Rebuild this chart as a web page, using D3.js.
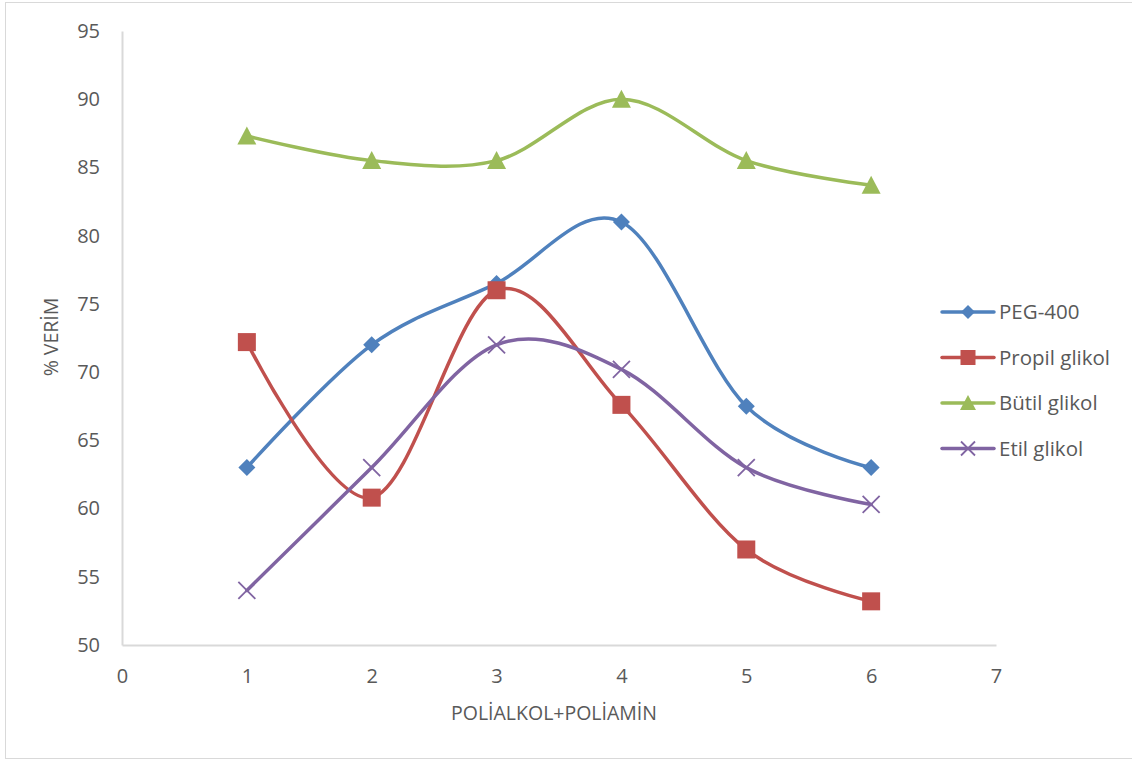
<!DOCTYPE html>
<html>
<head>
<meta charset="utf-8">
<script src="https://cdn.jsdelivr.net/npm/d3@7"></script>
<style>
  html, body { margin: 0; padding: 0; background: #fff; }
  svg { display: block; }
  text { font-family: "Open Sans", "Liberation Sans", sans-serif; fill: #595959; }
</style>
</head>
<body>
<svg id="chart" width="1132" height="761"></svg>
<script>
// Data
const xValues = [1, 2, 3, 4, 5, 6];
const peg400 = [63, 72, 76.5, 81, 67.5, 63];
const propilGlikol = [72.2, 60.8, 76, 67.6, 57, 53.2];
const butilGlikol = [87.3, 85.5, 85.5, 90, 85.5, 83.7];
const etilGlikol = [54, 63, 72, 70.2, 63, 60.3];
const seriesNames = ["PEG-400", "Propil glikol", "Bütil glikol", "Etil glikol"];
const xTicks = [0, 1, 2, 3, 4, 5, 6, 7];
const yTicks = [50, 55, 60, 65, 70, 75, 80, 85, 90, 95];

const series = [
  { name: seriesNames[0], values: peg400, color: "#4F81BD", marker: "diamond", r: 8.5 },
  { name: seriesNames[1], values: propilGlikol, color: "#C0504D", marker: "square", r: 9 },
  { name: seriesNames[2], values: butilGlikol, color: "#9BBB59", marker: "triangle", r: 9.5 },
  { name: seriesNames[3], values: etilGlikol, color: "#8064A2", marker: "cross", r: 8.5 }
];

const svg = d3.select("#chart");

// chart frame
svg.append("rect")
  .attr("x", 5.5).attr("y", 2.5).attr("width", 1140).attr("height", 756)
  .attr("fill", "none").attr("stroke", "#d9d9d9").attr("stroke-width", 1);

const x = d3.scaleLinear().domain([0, 7]).range([122, 996]);
const y = d3.scaleLinear().domain([50, 95]).range([645, 31]);

// axes
const xAxis = svg.append("g").attr("transform", `translate(0,${y(50)})`)
  .call(d3.axisBottom(x).tickValues(xTicks).tickSize(0).tickPadding(24).tickFormat(d3.format("d")));
const yAxis = svg.append("g").attr("transform", `translate(${x(0)},0)`)
  .call(d3.axisLeft(y).tickValues(yTicks).tickSize(0).tickPadding(22).tickFormat(d3.format("d")));
[xAxis, yAxis].forEach(g => {
  g.select(".domain").attr("stroke", "#d9d9d9").attr("stroke-width", 2);
  g.selectAll("text").attr("font-size", 20).attr("fill", "#595959")
    .style("font-family", '"Open Sans", "Liberation Sans", sans-serif');
});

// axis titles
svg.append("text")
  .attr("x", 554).attr("y", 720).attr("text-anchor", "middle")
  .attr("font-size", 19.5).text("POLİALKOL+POLİAMİN");
svg.append("text")
  .attr("transform", "translate(58,337) rotate(-90)")
  .attr("text-anchor", "middle").attr("font-size", 19.5).text("% VERİM");

// marker drawing
function drawMarker(g, type, color, cx, cy, r) {
  if (type === "diamond") {
    g.append("path")
      .attr("d", `M${cx},${cy - r}L${cx + r},${cy}L${cx},${cy + r}L${cx - r},${cy}Z`)
      .attr("fill", color);
  } else if (type === "square") {
    g.append("rect").attr("x", cx - r).attr("y", cy - r).attr("width", 2 * r).attr("height", 2 * r)
      .attr("fill", color);
  } else if (type === "triangle") {
    g.append("path")
      .attr("d", `M${cx},${cy - r}L${cx + r},${cy + r - 1}L${cx - r},${cy + r - 1}Z`)
      .attr("fill", color);
  } else if (type === "cross") {
    g.append("path")
      .attr("d", `M${cx - r},${cy - r}L${cx + r},${cy + r}M${cx - r},${cy + r}L${cx + r},${cy - r}`)
      .attr("stroke", color).attr("stroke-width", 1.8).attr("fill", "none");
  }
}

const line = d3.line()
  .x((d, i) => x(xValues[i]))
  .y(d => y(d))
  .curve(d3.curveCardinal.tension(0));

series.forEach(s => {
  const g = svg.append("g");
  g.append("path").datum(s.values)
    .attr("d", line)
    .attr("fill", "none").attr("stroke", s.color)
    .attr("stroke-width", 3.5).attr("stroke-linecap", "round").attr("stroke-linejoin", "round");
  s.values.forEach((v, i) => drawMarker(g, s.marker, s.color, x(xValues[i]), y(v), s.r));
});

// legend
const legend = svg.append("g");
series.forEach((s, i) => {
  const ly = 312 + i * 45.5;
  const g = legend.append("g");
  g.append("line").attr("x1", 942).attr("x2", 994).attr("y1", ly).attr("y2", ly)
    .attr("stroke", s.color).attr("stroke-width", 3.5).attr("stroke-linecap", "round");
  drawMarker(g, s.marker, s.color, 968, ly, s.r - 1.5);
  g.append("text").attr("x", 999).attr("y", ly + 7).attr("font-size", 20.5).text(s.name);
});
</script>
</body>
</html>
